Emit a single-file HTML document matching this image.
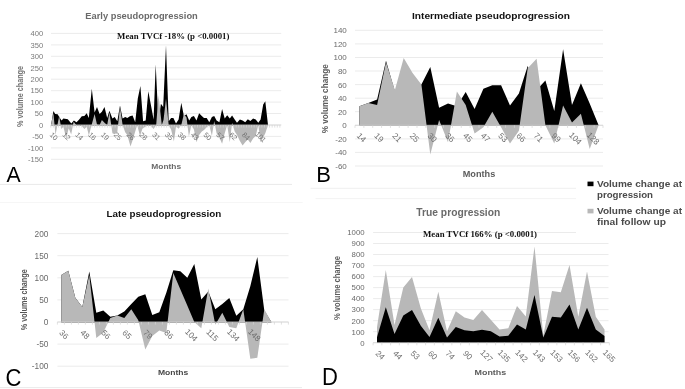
<!DOCTYPE html>
<html><head><meta charset="utf-8"><title>Figure</title>
<style>
html,body{margin:0;padding:0;background:#fff;}
body{width:685px;height:389px;overflow:hidden;font-family:"Liberation Sans",sans-serif;}
svg{display:block;font-family:"Liberation Sans",sans-serif;filter:grayscale(1);}
</style></head><body>
<svg width="685" height="389" viewBox="0 0 685 389">
<rect width="685" height="389" fill="#fff"/>
<line x1="0" y1="184.4" x2="292" y2="184.4" stroke="#e9e9e9" stroke-width="1"/>
<line x1="0" y1="387.6" x2="302" y2="387.6" stroke="#ebebeb" stroke-width="1"/>
<line x1="0" y1="202.5" x2="302.7" y2="202.5" stroke="#f6f6f6" stroke-width="1"/>
<line x1="310.5" y1="188.3" x2="576" y2="188.3" stroke="#efefef" stroke-width="1"/>
<line x1="315.5" y1="198.6" x2="576" y2="198.6" stroke="#f3f3f3" stroke-width="1"/>
<line x1="51.0" y1="159.3" x2="281.2" y2="159.3" stroke="#e6e6e6" stroke-width="0.8"/>
<line x1="51.0" y1="147.9" x2="281.2" y2="147.9" stroke="#e6e6e6" stroke-width="0.8"/>
<line x1="51.0" y1="136.4" x2="281.2" y2="136.4" stroke="#e6e6e6" stroke-width="0.8"/>
<line x1="51.0" y1="125.0" x2="281.2" y2="125.0" stroke="#e6e6e6" stroke-width="0.8"/>
<line x1="51.0" y1="113.5" x2="281.2" y2="113.5" stroke="#e6e6e6" stroke-width="0.8"/>
<line x1="51.0" y1="102.1" x2="281.2" y2="102.1" stroke="#e6e6e6" stroke-width="0.8"/>
<line x1="51.0" y1="90.7" x2="281.2" y2="90.7" stroke="#e6e6e6" stroke-width="0.8"/>
<line x1="51.0" y1="79.2" x2="281.2" y2="79.2" stroke="#e6e6e6" stroke-width="0.8"/>
<line x1="51.0" y1="67.8" x2="281.2" y2="67.8" stroke="#e6e6e6" stroke-width="0.8"/>
<line x1="51.0" y1="56.3" x2="281.2" y2="56.3" stroke="#e6e6e6" stroke-width="0.8"/>
<line x1="51.0" y1="44.9" x2="281.2" y2="44.9" stroke="#e6e6e6" stroke-width="0.8"/>
<line x1="51.0" y1="33.4" x2="281.2" y2="33.4" stroke="#e6e6e6" stroke-width="0.8"/>
<path d="M51.1 125.5 L51.1 125.0 L53.4 111.0 L55.2 114.0 L57.6 114.2 L59.9 117.9 L61.6 120.4 L63.4 118.6 L67.8 119.3 L71.3 123.4 L73.9 120.4 L76.5 122.3 L79.2 119.5 L81.8 116.3 L84.4 116.1 L86.7 113.3 L88.8 117.9 L91.8 88.8 L94.6 112.4 L97.0 107.1 L99.6 114.0 L101.9 111.7 L104.5 107.1 L107.2 117.9 L109.4 110.8 L112.4 118.6 L114.7 117.0 L117.3 121.3 L120.0 105.5 L122.6 118.6 L125.2 117.0 L127.3 117.9 L129.9 116.3 L132.6 115.6 L135.2 122.3 L137.8 98.4 L140.4 86.1 L143.1 121.3 L145.7 120.4 L148.3 91.3 L151.0 105.5 L153.6 119.5 L155.7 64.5 L158.5 123.2 L160.9 103.7 L163.2 107.1 L166.0 45.3 L168.7 121.3 L171.1 117.9 L173.4 117.9 L176.0 123.4 L178.6 119.5 L181.3 102.8 L183.9 116.1 L186.5 114.2 L189.2 120.4 L191.4 117.0 L193.9 116.1 L196.5 120.4 L199.1 113.3 L201.8 116.1 L204.0 117.9 L206.7 117.9 L209.3 122.3 L211.9 117.0 L214.2 116.1 L216.6 120.4 L219.4 122.3 L222.1 109.0 L224.7 118.6 L227.2 115.2 L229.8 118.6 L232.1 115.6 L234.7 119.5 L237.0 122.7 L239.9 119.5 L242.6 120.4 L245.2 122.3 L247.8 119.3 L250.4 120.9 L253.1 118.4 L255.7 119.5 L258.3 122.7 L260.6 119.5 L263.2 104.6 L265.3 101.2 L268.0 125.0 L268.0 125.5 Z" fill="#000"/>
<path d="M51.1 125.5 L51.1 125.0 L53.4 113.1 L55.5 135.1 L59.2 115.8 L61.3 128.9 L63.4 126.8 L66.2 138.3 L68.7 128.2 L71.2 134.6 L73.6 121.8 L76.2 125.0 L79.2 125.0 L81.8 126.1 L84.4 128.9 L86.7 126.8 L88.9 135.5 L91.6 125.0 L94.6 114.0 L97.0 124.5 L99.6 125.0 L101.9 120.0 L104.5 122.7 L107.2 125.0 L109.4 112.2 L112.4 133.2 L114.7 134.2 L117.3 132.3 L120.0 106.7 L122.6 125.0 L125.2 132.3 L127.3 135.1 L130.5 146.5 L132.6 140.3 L135.2 131.4 L137.2 125.0 L140.0 136.0 L142.4 128.7 L145.7 126.4 L148.3 125.0 L151.0 126.1 L153.6 128.9 L156.2 125.0 L158.5 95.2 L161.8 125.0 L163.5 120.0 L166.0 98.7 L168.7 125.0 L171.1 129.6 L173.9 141.5 L176.0 126.4 L178.6 128.7 L181.3 125.0 L183.9 114.0 L186.5 117.4 L188.9 136.4 L191.4 125.0 L193.9 129.6 L196.5 142.2 L199.1 135.1 L201.8 131.4 L204.0 130.0 L206.7 127.3 L209.3 125.0 L211.9 136.0 L214.2 120.9 L216.6 133.2 L219.4 137.6 L222.1 143.8 L224.7 133.2 L227.2 125.0 L229.8 142.2 L232.1 122.7 L234.7 131.4 L237.0 135.1 L239.9 141.0 L242.6 145.6 L245.2 142.2 L247.8 139.4 L250.4 142.9 L253.1 138.5 L255.7 136.0 L258.3 125.0 L260.6 142.2 L263.2 137.6 L265.3 133.2 L268.0 125.0 L268.0 125.5 Z" fill="#b8b8b8"/>
<text x="43.2" y="162.1" font-size="7.6" fill="#7a7a7a" text-anchor="end">-150</text>
<text x="43.2" y="150.6" font-size="7.6" fill="#7a7a7a" text-anchor="end">-100</text>
<text x="43.2" y="139.2" font-size="7.6" fill="#7a7a7a" text-anchor="end">-50</text>
<text x="43.2" y="127.7" font-size="7.6" fill="#7a7a7a" text-anchor="end">0</text>
<text x="43.2" y="116.3" font-size="7.6" fill="#7a7a7a" text-anchor="end">50</text>
<text x="43.2" y="104.8" font-size="7.6" fill="#7a7a7a" text-anchor="end">100</text>
<text x="43.2" y="93.4" font-size="7.6" fill="#7a7a7a" text-anchor="end">150</text>
<text x="43.2" y="81.9" font-size="7.6" fill="#7a7a7a" text-anchor="end">200</text>
<text x="43.2" y="70.5" font-size="7.6" fill="#7a7a7a" text-anchor="end">250</text>
<text x="43.2" y="59.0" font-size="7.6" fill="#7a7a7a" text-anchor="end">300</text>
<text x="43.2" y="47.6" font-size="7.6" fill="#7a7a7a" text-anchor="end">350</text>
<text x="43.2" y="36.1" font-size="7.6" fill="#7a7a7a" text-anchor="end">400</text>
<line x1="50.8" y1="125.0" x2="281.2" y2="125.0" stroke="#d4d4d4" stroke-width="0.8"/>
<path d="M50.80 125.0 v2.6 M53.37 125.0 v2.6 M55.95 125.0 v2.6 M58.52 125.0 v2.6 M61.10 125.0 v2.6 M63.67 125.0 v2.6 M66.24 125.0 v2.6 M68.82 125.0 v2.6 M71.39 125.0 v2.6 M73.97 125.0 v2.6 M76.54 125.0 v2.6 M79.11 125.0 v2.6 M81.69 125.0 v2.6 M84.26 125.0 v2.6 M86.84 125.0 v2.6 M89.41 125.0 v2.6 M91.98 125.0 v2.6 M94.56 125.0 v2.6 M97.13 125.0 v2.6 M99.71 125.0 v2.6 M102.28 125.0 v2.6 M104.85 125.0 v2.6 M107.43 125.0 v2.6 M110.00 125.0 v2.6 M112.58 125.0 v2.6 M115.15 125.0 v2.6 M117.72 125.0 v2.6 M120.30 125.0 v2.6 M122.87 125.0 v2.6 M125.45 125.0 v2.6 M128.02 125.0 v2.6 M130.59 125.0 v2.6 M133.17 125.0 v2.6 M135.74 125.0 v2.6 M138.32 125.0 v2.6 M140.89 125.0 v2.6 M143.46 125.0 v2.6 M146.04 125.0 v2.6 M148.61 125.0 v2.6 M151.19 125.0 v2.6 M153.76 125.0 v2.6 M156.33 125.0 v2.6 M158.91 125.0 v2.6 M161.48 125.0 v2.6 M164.06 125.0 v2.6 M166.63 125.0 v2.6 M169.20 125.0 v2.6 M171.78 125.0 v2.6 M174.35 125.0 v2.6 M176.93 125.0 v2.6 M179.50 125.0 v2.6 M182.07 125.0 v2.6 M184.65 125.0 v2.6 M187.22 125.0 v2.6 M189.80 125.0 v2.6 M192.37 125.0 v2.6 M194.94 125.0 v2.6 M197.52 125.0 v2.6 M200.09 125.0 v2.6 M202.67 125.0 v2.6 M205.24 125.0 v2.6 M207.81 125.0 v2.6 M210.39 125.0 v2.6 M212.96 125.0 v2.6 M215.54 125.0 v2.6 M218.11 125.0 v2.6 M220.68 125.0 v2.6 M223.26 125.0 v2.6 M225.83 125.0 v2.6 M228.41 125.0 v2.6 M230.98 125.0 v2.6 M233.55 125.0 v2.6 M236.13 125.0 v2.6 M238.70 125.0 v2.6 M241.28 125.0 v2.6 M243.85 125.0 v2.6 M246.42 125.0 v2.6 M249.00 125.0 v2.6 M251.57 125.0 v2.6 M254.15 125.0 v2.6 M256.72 125.0 v2.6 M259.29 125.0 v2.6 M261.87 125.0 v2.6 M264.44 125.0 v2.6 M267.02 125.0 v2.6 M269.59 125.0 v2.6 M272.16 125.0 v2.6 M274.74 125.0 v2.6 M277.31 125.0 v2.6 M279.89 125.0 v2.6" stroke="#d4d4d4" stroke-width="0.7" fill="none"/>
<text transform="translate(52.0 138.1) rotate(45)" font-size="7.2" fill="#747474" text-anchor="middle">10</text>
<text transform="translate(64.8 138.1) rotate(45)" font-size="7.2" fill="#747474" text-anchor="middle">12</text>
<text transform="translate(77.6 138.1) rotate(45)" font-size="7.2" fill="#747474" text-anchor="middle">14</text>
<text transform="translate(90.5 138.1) rotate(45)" font-size="7.2" fill="#747474" text-anchor="middle">16</text>
<text transform="translate(103.3 138.1) rotate(45)" font-size="7.2" fill="#747474" text-anchor="middle">19</text>
<text transform="translate(116.1 138.1) rotate(45)" font-size="7.2" fill="#747474" text-anchor="middle">25</text>
<text transform="translate(128.9 138.1) rotate(45)" font-size="7.2" fill="#747474" text-anchor="middle">26</text>
<text transform="translate(141.7 138.1) rotate(45)" font-size="7.2" fill="#747474" text-anchor="middle">28</text>
<text transform="translate(154.6 138.1) rotate(45)" font-size="7.2" fill="#747474" text-anchor="middle">31</text>
<text transform="translate(167.4 138.1) rotate(45)" font-size="7.2" fill="#747474" text-anchor="middle">35</text>
<text transform="translate(180.2 138.1) rotate(45)" font-size="7.2" fill="#747474" text-anchor="middle">38</text>
<text transform="translate(193.0 138.1) rotate(45)" font-size="7.2" fill="#747474" text-anchor="middle">43</text>
<text transform="translate(205.8 138.1) rotate(45)" font-size="7.2" fill="#747474" text-anchor="middle">50</text>
<text transform="translate(218.7 138.1) rotate(45)" font-size="7.2" fill="#747474" text-anchor="middle">57</text>
<text transform="translate(231.5 138.1) rotate(45)" font-size="7.2" fill="#747474" text-anchor="middle">62</text>
<text transform="translate(244.3 138.1) rotate(45)" font-size="7.2" fill="#747474" text-anchor="middle">84</text>
<text transform="translate(258.9 138.7) rotate(45)" font-size="7.2" fill="#747474" text-anchor="middle">101</text>
<text x="85.3" y="18.6" font-size="9.80" fill="#6a6a6a" font-weight="bold" text-anchor="start" textLength="112.5" lengthAdjust="spacingAndGlyphs" >Early pseudoprogression</text>
<text x="117.1" y="39.0" font-size="9.00" fill="#111" font-weight="bold" text-anchor="start" font-family="Liberation Serif, serif" textLength="112.3" lengthAdjust="spacingAndGlyphs" >Mean TVCf -18% (p &lt;0.0001)</text>
<text transform="translate(23.4 96.5) rotate(-90)" font-size="8.60" fill="#727272" font-weight="bold" text-anchor="middle" textLength="61.0" lengthAdjust="spacingAndGlyphs">% volume change</text>
<text x="166.2" y="169.1" font-size="7.90" fill="#6a6a6a" font-weight="bold" text-anchor="middle" textLength="29.9" lengthAdjust="spacingAndGlyphs" >Months</text>
<text x="6.6" y="182.4" font-size="22.00" fill="#000" font-weight="normal" text-anchor="start" textLength="14.2" lengthAdjust="spacingAndGlyphs" >A</text>
<line x1="355.0" y1="166.0" x2="603.0" y2="166.0" stroke="#e6e6e6" stroke-width="0.8"/>
<line x1="355.0" y1="152.4" x2="603.0" y2="152.4" stroke="#e6e6e6" stroke-width="0.8"/>
<line x1="355.0" y1="138.9" x2="603.0" y2="138.9" stroke="#e6e6e6" stroke-width="0.8"/>
<line x1="355.0" y1="125.3" x2="603.0" y2="125.3" stroke="#e6e6e6" stroke-width="0.8"/>
<line x1="355.0" y1="111.7" x2="603.0" y2="111.7" stroke="#e6e6e6" stroke-width="0.8"/>
<line x1="355.0" y1="98.2" x2="603.0" y2="98.2" stroke="#e6e6e6" stroke-width="0.8"/>
<line x1="355.0" y1="84.6" x2="603.0" y2="84.6" stroke="#e6e6e6" stroke-width="0.8"/>
<line x1="355.0" y1="71.0" x2="603.0" y2="71.0" stroke="#e6e6e6" stroke-width="0.8"/>
<line x1="355.0" y1="57.5" x2="603.0" y2="57.5" stroke="#e6e6e6" stroke-width="0.8"/>
<line x1="355.0" y1="43.9" x2="603.0" y2="43.9" stroke="#e6e6e6" stroke-width="0.8"/>
<line x1="355.0" y1="30.3" x2="603.0" y2="30.3" stroke="#e6e6e6" stroke-width="0.8"/>
<path d="M359.4 125.8 L359.4 106.3 L368.3 102.9 L377.1 99.5 L386.0 60.8 L394.9 91.4 L403.7 84.6 L412.6 84.6 L421.4 84.6 L430.3 66.9 L439.1 107.7 L448.0 103.6 L456.9 106.3 L465.7 92.1 L474.6 109.0 L483.4 88.7 L492.3 85.3 L501.1 85.3 L510.0 105.6 L518.9 93.4 L527.7 65.9 L536.6 90.0 L545.4 80.5 L554.3 111.1 L563.1 49.3 L572.0 104.9 L580.9 83.2 L589.7 103.6 L598.6 125.3 L598.6 125.8 Z" fill="#000"/>
<path d="M359.4 125.8 L359.4 106.3 L368.3 102.9 L377.1 104.9 L386.0 62.2 L394.9 90.0 L403.7 58.1 L412.6 73.1 L421.4 84.6 L430.3 154.5 L439.1 119.9 L448.0 142.3 L456.9 91.4 L465.7 104.9 L474.6 133.4 L483.4 127.3 L492.3 111.7 L501.1 127.3 L510.0 143.6 L518.9 130.7 L527.7 68.3 L536.6 58.8 L545.4 125.3 L554.3 143.6 L563.1 105.6 L572.0 122.6 L580.9 113.8 L589.7 149.0 L598.6 125.3 L598.6 125.8 Z" fill="#b8b8b8"/>
<text x="346.8" y="168.9" font-size="8.0" fill="#6a6a6a" text-anchor="end">-60</text>
<text x="346.8" y="155.3" font-size="8.0" fill="#6a6a6a" text-anchor="end">-40</text>
<text x="346.8" y="141.8" font-size="8.0" fill="#6a6a6a" text-anchor="end">-20</text>
<text x="346.8" y="128.2" font-size="8.0" fill="#6a6a6a" text-anchor="end">0</text>
<text x="346.8" y="114.6" font-size="8.0" fill="#6a6a6a" text-anchor="end">20</text>
<text x="346.8" y="101.0" font-size="8.0" fill="#6a6a6a" text-anchor="end">40</text>
<text x="346.8" y="87.5" font-size="8.0" fill="#6a6a6a" text-anchor="end">60</text>
<text x="346.8" y="73.9" font-size="8.0" fill="#6a6a6a" text-anchor="end">80</text>
<text x="346.8" y="60.3" font-size="8.0" fill="#6a6a6a" text-anchor="end">100</text>
<text x="346.8" y="46.8" font-size="8.0" fill="#6a6a6a" text-anchor="end">120</text>
<text x="346.8" y="33.2" font-size="8.0" fill="#6a6a6a" text-anchor="end">140</text>
<line x1="355.0" y1="125.3" x2="603.0" y2="125.3" stroke="#d4d4d4" stroke-width="0.8"/>
<path d="M355.00 125.3 v2.6 M363.86 125.3 v2.6 M372.71 125.3 v2.6 M381.57 125.3 v2.6 M390.43 125.3 v2.6 M399.28 125.3 v2.6 M408.14 125.3 v2.6 M417.00 125.3 v2.6 M425.86 125.3 v2.6 M434.71 125.3 v2.6 M443.57 125.3 v2.6 M452.43 125.3 v2.6 M461.28 125.3 v2.6 M470.14 125.3 v2.6 M479.00 125.3 v2.6 M487.86 125.3 v2.6 M496.71 125.3 v2.6 M505.57 125.3 v2.6 M514.43 125.3 v2.6 M523.28 125.3 v2.6 M532.14 125.3 v2.6 M541.00 125.3 v2.6 M549.85 125.3 v2.6 M558.71 125.3 v2.6 M567.57 125.3 v2.6 M576.42 125.3 v2.6 M585.28 125.3 v2.6 M594.14 125.3 v2.6 M603.00 125.3 v2.6" stroke="#d4d4d4" stroke-width="0.7" fill="none"/>
<text transform="translate(359.4 139.6) rotate(45)" font-size="8.3" fill="#6e6e6e" text-anchor="middle">14</text>
<text transform="translate(377.1 139.6) rotate(45)" font-size="8.3" fill="#6e6e6e" text-anchor="middle">19</text>
<text transform="translate(394.9 139.6) rotate(45)" font-size="8.3" fill="#6e6e6e" text-anchor="middle">21</text>
<text transform="translate(412.6 139.6) rotate(45)" font-size="8.3" fill="#6e6e6e" text-anchor="middle">25</text>
<text transform="translate(430.3 139.6) rotate(45)" font-size="8.3" fill="#6e6e6e" text-anchor="middle">30</text>
<text transform="translate(448.0 139.6) rotate(45)" font-size="8.3" fill="#6e6e6e" text-anchor="middle">36</text>
<text transform="translate(465.7 139.6) rotate(45)" font-size="8.3" fill="#6e6e6e" text-anchor="middle">45</text>
<text transform="translate(483.4 139.6) rotate(45)" font-size="8.3" fill="#6e6e6e" text-anchor="middle">47</text>
<text transform="translate(501.1 139.6) rotate(45)" font-size="8.3" fill="#6e6e6e" text-anchor="middle">53</text>
<text transform="translate(518.9 139.6) rotate(45)" font-size="8.3" fill="#6e6e6e" text-anchor="middle">66</text>
<text transform="translate(536.6 139.6) rotate(45)" font-size="8.3" fill="#6e6e6e" text-anchor="middle">71</text>
<text transform="translate(554.3 139.6) rotate(45)" font-size="8.3" fill="#6e6e6e" text-anchor="middle">99</text>
<text transform="translate(573.4 140.3) rotate(45)" font-size="8.3" fill="#6e6e6e" text-anchor="middle">104</text>
<text transform="translate(591.2 140.3) rotate(45)" font-size="8.3" fill="#6e6e6e" text-anchor="middle">128</text>
<text x="412.0" y="18.9" font-size="8.80" fill="#111" font-weight="bold" text-anchor="start" textLength="158.0" lengthAdjust="spacingAndGlyphs" >Intermediate pseudoprogression</text>
<text transform="translate(328.3 98.8) rotate(-90)" font-size="8.80" fill="#5c5c5c" font-weight="bold" text-anchor="middle" textLength="69.0" lengthAdjust="spacingAndGlyphs">% volume change</text>
<text x="479.0" y="176.8" font-size="8.70" fill="#5c5c5c" font-weight="bold" text-anchor="middle" textLength="32.5" lengthAdjust="spacingAndGlyphs" >Months</text>
<text x="316.2" y="182.2" font-size="22.00" fill="#000" font-weight="normal" text-anchor="start" >B</text>
<rect x="587.5" y="181.6" width="6" height="4.6" fill="#000"/>
<rect x="587.5" y="208.8" width="6" height="4.6" fill="#b8b8b8"/>
<text x="597.0" y="187.0" font-size="9.20" fill="#4a4a4a" font-weight="bold" text-anchor="start" textLength="85.0" lengthAdjust="spacingAndGlyphs" >Volume change at</text>
<text x="597.0" y="197.8" font-size="9.20" fill="#4a4a4a" font-weight="bold" text-anchor="start" textLength="56.0" lengthAdjust="spacingAndGlyphs" >progression</text>
<text x="597.0" y="213.8" font-size="9.20" fill="#4a4a4a" font-weight="bold" text-anchor="start" textLength="85.0" lengthAdjust="spacingAndGlyphs" >Volume change at</text>
<text x="597.0" y="224.9" font-size="9.20" fill="#4a4a4a" font-weight="bold" text-anchor="start" textLength="69.0" lengthAdjust="spacingAndGlyphs" >final follow up</text>
<line x1="57.4" y1="366.2" x2="288.5" y2="366.2" stroke="#e6e6e6" stroke-width="0.8"/>
<line x1="57.4" y1="344.1" x2="288.5" y2="344.1" stroke="#e6e6e6" stroke-width="0.8"/>
<line x1="57.4" y1="322.0" x2="288.5" y2="322.0" stroke="#e6e6e6" stroke-width="0.8"/>
<line x1="57.4" y1="299.9" x2="288.5" y2="299.9" stroke="#e6e6e6" stroke-width="0.8"/>
<line x1="57.4" y1="277.8" x2="288.5" y2="277.8" stroke="#e6e6e6" stroke-width="0.8"/>
<line x1="57.4" y1="255.7" x2="288.5" y2="255.7" stroke="#e6e6e6" stroke-width="0.8"/>
<line x1="57.4" y1="233.6" x2="288.5" y2="233.6" stroke="#e6e6e6" stroke-width="0.8"/>
<path d="M61.3 322.4 L61.3 275.1 L68.3 270.7 L75.3 297.7 L82.3 307.0 L89.3 271.6 L96.3 312.7 L103.3 310.5 L110.3 316.7 L117.3 315.4 L124.3 311.4 L131.3 303.9 L138.3 296.8 L145.3 294.2 L152.3 314.9 L159.3 312.3 L166.3 292.8 L173.3 270.3 L180.3 271.2 L187.3 277.8 L194.3 264.1 L201.3 299.5 L208.3 291.5 L215.3 309.2 L222.3 303.9 L229.3 298.1 L236.3 315.8 L243.3 309.2 L250.3 286.2 L257.3 257.0 L264.3 310.5 L271.3 322.0 L271.3 322.4 Z" fill="#000"/>
<path d="M61.3 322.4 L61.3 275.1 L68.3 270.7 L75.3 297.7 L82.3 307.0 L89.3 275.1 L96.3 337.9 L103.3 332.6 L110.3 318.0 L117.3 315.4 L124.3 318.0 L131.3 309.2 L138.3 320.2 L145.3 349.4 L152.3 336.1 L159.3 330.4 L166.3 333.1 L173.3 272.9 L180.3 289.3 L187.3 305.6 L194.3 322.0 L201.3 328.2 L208.3 288.4 L215.3 324.7 L222.3 312.7 L229.3 326.9 L236.3 328.2 L243.3 309.2 L250.3 358.7 L257.3 357.8 L264.3 309.2 L271.3 322.0 L271.3 322.4 Z" fill="#b8b8b8"/>
<text x="48.4" y="369.2" font-size="8.3" fill="#6a6a6a" text-anchor="end">-100</text>
<text x="48.4" y="347.1" font-size="8.3" fill="#6a6a6a" text-anchor="end">-50</text>
<text x="48.4" y="325.0" font-size="8.3" fill="#6a6a6a" text-anchor="end">0</text>
<text x="48.4" y="302.9" font-size="8.3" fill="#6a6a6a" text-anchor="end">50</text>
<text x="48.4" y="280.8" font-size="8.3" fill="#6a6a6a" text-anchor="end">100</text>
<text x="48.4" y="258.7" font-size="8.3" fill="#6a6a6a" text-anchor="end">150</text>
<text x="48.4" y="236.6" font-size="8.3" fill="#6a6a6a" text-anchor="end">200</text>
<line x1="57.4" y1="322.0" x2="288.5" y2="322.0" stroke="#d4d4d4" stroke-width="0.8"/>
<path d="M57.40 322.0 v2.6 M64.40 322.0 v2.6 M71.40 322.0 v2.6 M78.40 322.0 v2.6 M85.40 322.0 v2.6 M92.40 322.0 v2.6 M99.40 322.0 v2.6 M106.40 322.0 v2.6 M113.40 322.0 v2.6 M120.40 322.0 v2.6 M127.40 322.0 v2.6 M134.40 322.0 v2.6 M141.40 322.0 v2.6 M148.40 322.0 v2.6 M155.40 322.0 v2.6 M162.40 322.0 v2.6 M169.40 322.0 v2.6 M176.40 322.0 v2.6 M183.40 322.0 v2.6 M190.40 322.0 v2.6 M197.40 322.0 v2.6 M204.40 322.0 v2.6 M211.40 322.0 v2.6 M218.40 322.0 v2.6 M225.40 322.0 v2.6 M232.40 322.0 v2.6 M239.40 322.0 v2.6 M246.40 322.0 v2.6 M253.40 322.0 v2.6 M260.40 322.0 v2.6 M267.40 322.0 v2.6 M274.40 322.0 v2.6 M281.40 322.0 v2.6 M288.40 322.0 v2.6" stroke="#d4d4d4" stroke-width="0.7" fill="none"/>
<text transform="translate(61.9 336.4) rotate(45)" font-size="8.2" fill="#6e6e6e" text-anchor="middle">36</text>
<text transform="translate(82.9 336.4) rotate(45)" font-size="8.2" fill="#6e6e6e" text-anchor="middle">48</text>
<text transform="translate(103.9 336.4) rotate(45)" font-size="8.2" fill="#6e6e6e" text-anchor="middle">56</text>
<text transform="translate(124.9 336.4) rotate(45)" font-size="8.2" fill="#6e6e6e" text-anchor="middle">65</text>
<text transform="translate(145.9 336.4) rotate(45)" font-size="8.2" fill="#6e6e6e" text-anchor="middle">79</text>
<text transform="translate(166.9 336.4) rotate(45)" font-size="8.2" fill="#6e6e6e" text-anchor="middle">86</text>
<text transform="translate(189.3 337.1) rotate(45)" font-size="8.2" fill="#6e6e6e" text-anchor="middle">104</text>
<text transform="translate(210.3 337.1) rotate(45)" font-size="8.2" fill="#6e6e6e" text-anchor="middle">115</text>
<text transform="translate(231.3 337.1) rotate(45)" font-size="8.2" fill="#6e6e6e" text-anchor="middle">134</text>
<text transform="translate(252.3 337.1) rotate(45)" font-size="8.2" fill="#6e6e6e" text-anchor="middle">148</text>
<text x="106.4" y="216.8" font-size="9.00" fill="#111" font-weight="bold" text-anchor="start" textLength="115.0" lengthAdjust="spacingAndGlyphs" >Late pseudoprogression</text>
<text transform="translate(26.8 299.8) rotate(-90)" font-size="8.40" fill="#555" font-weight="bold" text-anchor="middle" textLength="61.0" lengthAdjust="spacingAndGlyphs">% volume change</text>
<text x="173.1" y="375.0" font-size="7.30" fill="#484848" font-weight="bold" text-anchor="middle" textLength="30.4" lengthAdjust="spacingAndGlyphs" >Months</text>
<text x="5.5" y="386.2" font-size="23.00" fill="#000" font-weight="normal" text-anchor="start" textLength="15.9" lengthAdjust="spacingAndGlyphs" >C</text>
<line x1="373.1" y1="342.7" x2="608.5" y2="342.7" stroke="#e6e6e6" stroke-width="0.8"/>
<line x1="373.1" y1="331.7" x2="608.5" y2="331.7" stroke="#e6e6e6" stroke-width="0.8"/>
<line x1="373.1" y1="320.7" x2="608.5" y2="320.7" stroke="#e6e6e6" stroke-width="0.8"/>
<line x1="373.1" y1="309.6" x2="608.5" y2="309.6" stroke="#e6e6e6" stroke-width="0.8"/>
<line x1="373.1" y1="298.6" x2="608.5" y2="298.6" stroke="#e6e6e6" stroke-width="0.8"/>
<line x1="373.1" y1="287.6" x2="608.5" y2="287.6" stroke="#e6e6e6" stroke-width="0.8"/>
<line x1="373.1" y1="276.6" x2="608.5" y2="276.6" stroke="#e6e6e6" stroke-width="0.8"/>
<line x1="373.1" y1="265.6" x2="608.5" y2="265.6" stroke="#e6e6e6" stroke-width="0.8"/>
<line x1="373.1" y1="254.5" x2="608.5" y2="254.5" stroke="#e6e6e6" stroke-width="0.8"/>
<line x1="373.1" y1="243.5" x2="608.5" y2="243.5" stroke="#e6e6e6" stroke-width="0.8"/>
<line x1="373.1" y1="232.5" x2="576.0" y2="232.5" stroke="#e6e6e6" stroke-width="0.8"/>
<path d="M377.0 343.1 L377.0 327.3 L385.8 270.0 L394.5 325.1 L403.3 287.6 L412.0 277.1 L420.8 308.3 L429.5 330.2 L438.3 291.8 L447.0 331.3 L455.8 311.2 L464.5 317.5 L473.3 319.9 L482.0 310.1 L490.8 319.7 L499.5 329.6 L508.3 328.3 L517.0 305.9 L525.8 316.4 L534.5 246.5 L543.3 335.4 L552.0 291.0 L560.8 292.3 L569.5 265.0 L578.3 316.8 L587.0 271.6 L595.8 316.8 L604.5 329.4 L604.5 343.1 Z" fill="#b8b8b8"/>
<path d="M377.0 343.1 L377.0 337.2 L385.8 307.2 L394.5 333.9 L403.3 315.5 L412.0 310.1 L420.8 325.8 L429.5 336.9 L438.3 317.7 L447.0 337.4 L455.8 326.9 L464.5 330.2 L473.3 331.3 L482.0 329.8 L490.8 331.3 L499.5 336.4 L508.3 335.8 L517.0 324.5 L525.8 329.5 L534.5 294.9 L543.3 337.6 L552.0 316.8 L560.8 317.5 L569.5 304.4 L578.3 329.5 L587.0 307.7 L595.8 329.4 L604.5 336.1 L604.5 343.1 Z" fill="#000"/>
<text x="364.6" y="345.5" font-size="7.8" fill="#6a6a6a" text-anchor="end">0</text>
<text x="364.6" y="334.5" font-size="7.8" fill="#6a6a6a" text-anchor="end">100</text>
<text x="364.6" y="323.5" font-size="7.8" fill="#6a6a6a" text-anchor="end">200</text>
<text x="364.6" y="312.4" font-size="7.8" fill="#6a6a6a" text-anchor="end">300</text>
<text x="364.6" y="301.4" font-size="7.8" fill="#6a6a6a" text-anchor="end">400</text>
<text x="364.6" y="290.4" font-size="7.8" fill="#6a6a6a" text-anchor="end">500</text>
<text x="364.6" y="279.4" font-size="7.8" fill="#6a6a6a" text-anchor="end">600</text>
<text x="364.6" y="268.4" font-size="7.8" fill="#6a6a6a" text-anchor="end">700</text>
<text x="364.6" y="257.3" font-size="7.8" fill="#6a6a6a" text-anchor="end">800</text>
<text x="364.6" y="246.3" font-size="7.8" fill="#6a6a6a" text-anchor="end">900</text>
<text x="364.6" y="235.3" font-size="7.8" fill="#6a6a6a" text-anchor="end">1000</text>
<line x1="373.1" y1="342.7" x2="609.3" y2="342.7" stroke="#d4d4d4" stroke-width="0.8"/>
<path d="M373.10 342.7 v2.6 M381.85 342.7 v2.6 M390.60 342.7 v2.6 M399.35 342.7 v2.6 M408.10 342.7 v2.6 M416.85 342.7 v2.6 M425.60 342.7 v2.6 M434.35 342.7 v2.6 M443.10 342.7 v2.6 M451.85 342.7 v2.6 M460.60 342.7 v2.6 M469.35 342.7 v2.6 M478.10 342.7 v2.6 M486.85 342.7 v2.6 M495.60 342.7 v2.6 M504.35 342.7 v2.6 M513.10 342.7 v2.6 M521.85 342.7 v2.6 M530.60 342.7 v2.6 M539.35 342.7 v2.6 M548.10 342.7 v2.6 M556.85 342.7 v2.6 M565.60 342.7 v2.6 M574.35 342.7 v2.6 M583.10 342.7 v2.6 M591.85 342.7 v2.6 M600.60 342.7 v2.6 M609.35 342.7 v2.6" stroke="#d4d4d4" stroke-width="0.7" fill="none"/>
<text transform="translate(378.2 357.1) rotate(45)" font-size="8.2" fill="#6e6e6e" text-anchor="middle">24</text>
<text transform="translate(395.7 357.1) rotate(45)" font-size="8.2" fill="#6e6e6e" text-anchor="middle">44</text>
<text transform="translate(413.2 357.1) rotate(45)" font-size="8.2" fill="#6e6e6e" text-anchor="middle">53</text>
<text transform="translate(430.7 357.1) rotate(45)" font-size="8.2" fill="#6e6e6e" text-anchor="middle">60</text>
<text transform="translate(448.2 357.1) rotate(45)" font-size="8.2" fill="#6e6e6e" text-anchor="middle">74</text>
<text transform="translate(465.7 357.1) rotate(45)" font-size="8.2" fill="#6e6e6e" text-anchor="middle">90</text>
<text transform="translate(484.7 357.8) rotate(45)" font-size="8.2" fill="#6e6e6e" text-anchor="middle">127</text>
<text transform="translate(502.2 357.8) rotate(45)" font-size="8.2" fill="#6e6e6e" text-anchor="middle">135</text>
<text transform="translate(519.7 357.8) rotate(45)" font-size="8.2" fill="#6e6e6e" text-anchor="middle">142</text>
<text transform="translate(537.2 357.8) rotate(45)" font-size="8.2" fill="#6e6e6e" text-anchor="middle">143</text>
<text transform="translate(554.7 357.8) rotate(45)" font-size="8.2" fill="#6e6e6e" text-anchor="middle">153</text>
<text transform="translate(572.2 357.8) rotate(45)" font-size="8.2" fill="#6e6e6e" text-anchor="middle">156</text>
<text transform="translate(589.7 357.8) rotate(45)" font-size="8.2" fill="#6e6e6e" text-anchor="middle">162</text>
<text transform="translate(607.2 357.8) rotate(45)" font-size="8.2" fill="#6e6e6e" text-anchor="middle">165</text>
<text x="416.3" y="216.0" font-size="10.30" fill="#6a6a6a" font-weight="bold" text-anchor="start" textLength="84.0" lengthAdjust="spacingAndGlyphs" >True progression</text>
<text x="423.0" y="236.9" font-size="9.00" fill="#111" font-weight="bold" text-anchor="start" font-family="Liberation Serif, serif" textLength="114.0" lengthAdjust="spacingAndGlyphs" >Mean TVCf 166% (p &lt;0.0001)</text>
<text transform="translate(340.2 288.0) rotate(-90)" font-size="8.60" fill="#5c5c5c" font-weight="bold" text-anchor="middle" textLength="64.0" lengthAdjust="spacingAndGlyphs">% volume change</text>
<text x="490.4" y="374.9" font-size="7.80" fill="#5c5c5c" font-weight="bold" text-anchor="middle" textLength="31.7" lengthAdjust="spacingAndGlyphs" >Months</text>
<text x="322.1" y="385.4" font-size="23.00" fill="#000" font-weight="normal" text-anchor="start" textLength="15.9" lengthAdjust="spacingAndGlyphs" >D</text>
</svg>
</body></html>
